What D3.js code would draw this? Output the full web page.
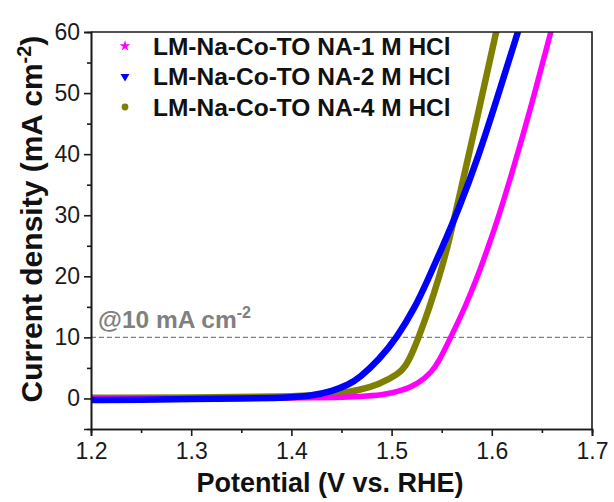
<!DOCTYPE html>
<html>
<head>
<meta charset="utf-8">
<script src="https://cdn.jsdelivr.net/npm/d3@7"></script>
<style>
	body { margin: 0; background: #fff; }
	text { font-family: Arial, "Liberation Sans", sans-serif; }
</style>
</head>
<body>
<svg id="lsv_chart" width="614" height="502"></svg>
<script>
/**
* LSV curves
*/
var series_names = ["LM-Na-Co-TO NA-1 M HCl", "LM-Na-Co-TO NA-2 M HCl", "LM-Na-Co-TO NA-4 M HCl"];
var series_colors = ["#ff00ff", "#0000ff", "#808000"];
var series_symbols = [d3.symbolStar, d3.symbolTriangle, d3.symbolCircle];

var potential_1M = [1.20, 1.30, 1.40, 1.45, 1.4674, 1.4906, 1.5072, 1.527, 1.5403, 1.547, 1.559, 1.5735, 1.585, 1.596, 1.607, 1.623, 1.638, 1.6597];
var current_1M = [0.0, 0.0, 0.05, 0.15, 0.3, 0.55, 1.1, 2.4, 4.4, 6.0, 10.0, 15.0, 19.6, 24.6, 29.8, 38.5, 47.0, 60.5];

var potential_2M = [1.20, 1.25, 1.30, 1.35, 1.40, 1.42, 1.441, 1.4575, 1.4674, 1.4873, 1.5054, 1.5237, 1.5355, 1.5502, 1.5668, 1.5867, 1.606, 1.627];
var current_2M = [-0.25, -0.2, -0.1, 0.0, 0.15, 0.45, 1.2, 2.3, 3.3, 6.3, 10.0, 15.0, 19.2, 24.6, 30.9, 39.6, 49.5, 60.5];

var potential_4M = [1.20, 1.30, 1.40, 1.43, 1.45, 1.4674, 1.4873, 1.5072, 1.514, 1.5195, 1.527, 1.537, 1.5469, 1.5552, 1.5684, 1.5875, 1.605];
var current_4M = [0.1, 0.15, 0.3, 0.55, 0.85, 1.35, 2.3, 4.0, 5.3, 7.0, 10.0, 14.5, 19.6, 24.3, 33.6, 47.5, 60.5];

var x_ticks = [1.2, 1.3, 1.4, 1.5, 1.6, 1.7];
var x_minor = [1.25, 1.35, 1.45, 1.55, 1.65];
var y_ticks = [0, 10, 20, 30, 40, 50, 60];
var y_minor = [5, 15, 25, 35, 45, 55];
var ref_current = 10;

/**
* @func Zip the x and y arrays into points
*/
function zip(xs, ys)
{
	return xs.map(function(v, i) { return [v, ys[i]]; });
}

var curves = [
	zip(potential_1M, current_1M),
	zip(potential_2M, current_2M),
	zip(potential_4M, current_4M)
];

let svg = d3.select("#lsv_chart");
let margin = {left: 91, right: 22, top: 32, bottom: 73};
let width = 614 - margin.left - margin.right,
	height = 502 - margin.top - margin.bottom;

let x = d3.scaleLinear().domain([1.2, 1.7]).range([0, width]);
let y = d3.scaleLinear().domain([-5, 60]).range([height, 0]);

let g = svg.append("g")
	.attr("transform", "translate(" + margin.left + "," + margin.top + ")");

svg.append("defs").append("clipPath")
	.attr("id", "plot_clip")
	.append("rect")
	.attr("width", width)
	.attr("height", height);

/* dashed reference line at 10 mA cm-2 */
g.append("line")
	.attr("x1", 0).attr("x2", width)
	.attr("y1", y(ref_current)).attr("y2", y(ref_current))
	.attr("stroke", "#7f7f7f")
	.attr("stroke-width", 1.4)
	.attr("stroke-dasharray", "5,3");

let ref_label = g.append("text")
	.attr("x", 7)
	.attr("y", y(ref_current) - 9)
	.attr("fill", "#808080")
	.style("font-size", "24.5px")
	.style("font-weight", "bold");
ref_label.append("tspan").text("@10 mA cm");
ref_label.append("tspan").attr("dy", -10).style("font-size", "16px").text("-2");

/* curves */
var line = d3.line()
	.x(function(d) { return x(d[0]); })
	.y(function(d) { return y(d[1]); })
	.curve(d3.curveBasis);

let plot = g.append("g").attr("clip-path", "url(#plot_clip)");
// draw 4M first, then 1M, then 2M on top like the picture
[2, 0, 1].forEach(function(i) {
	plot.append("path")
		.datum(curves[i])
		.attr("fill", "none")
		.attr("stroke", series_colors[i])
		.attr("stroke-width", i == 0 ? 5.5 : 6.5)
		.attr("stroke-linejoin", "round")
		.attr("d", line);
});

/* axes */
let x_axis = g.append("g")
	.attr("transform", "translate(0," + height + ")")
	.call(d3.axisBottom(x).tickValues(x_ticks).tickSize(7).tickFormat(d3.format(".1f")));
g.append("g")
	.attr("transform", "translate(0," + height + ")")
	.call(d3.axisBottom(x).tickValues(x_minor).tickSize(4).tickFormat(""));

let y_axis = g.append("g")
	.call(d3.axisLeft(y).tickValues(y_ticks).tickSize(7));
g.append("g")
	.call(d3.axisLeft(y).tickValues(y_minor).tickSize(4).tickFormat(""));

g.selectAll(".domain, .tick line")
	.attr("stroke", "#1a1a1a")
	.attr("stroke-width", 1.6);

x_axis.selectAll("text")
	.attr("dy", "0.9em")
	.attr("y", 9)
	.attr("fill", "#1a1a1a")
	.style("font-size", "23px");
y_axis.selectAll("text")
	.attr("x", -11)
	.attr("fill", "#1a1a1a")
	.style("font-size", "23px");

// top and right frame
g.append("path")
	.attr("d", "M0,0H" + width + "V" + height)
	.attr("fill", "none")
	.attr("stroke", "#1a1a1a")
	.attr("stroke-width", 1.6);

/* axis titles */
svg.append("text")
	.attr("x", 330)
	.attr("y", 492)
	.attr("text-anchor", "middle")
	.attr("fill", "#111")
	.style("font-size", "27px")
	.style("font-weight", "bold")
	.text("Potential (V vs. RHE)");

let y_title = svg.append("text")
	.attr("transform", "translate(42,219) rotate(-90)")
	.attr("text-anchor", "middle")
	.attr("fill", "#111")
	.style("font-size", "30px")
	.style("font-weight", "bold");
y_title.append("tspan").text("Current density (mA cm");
y_title.append("tspan").attr("dy", -11).style("font-size", "20px").text("-2");
y_title.append("tspan").attr("dy", 11).text(")");

/* legend */
let legend = g.selectAll(".legend")
	.data(series_names)
	.enter().append("g")
	.attr("class", "legend")
	.attr("transform", function(d, i) { return "translate(34," + (14 + i * 30.5) + ")"; });

legend.append("path")
	.attr("d", function(d, i) { return d3.symbol().type(series_symbols[i]).size(i == 1 ? 34 : 36)(); })
	.attr("transform", function(d, i) { return i == 1 ? "rotate(180)" : ""; })
	.attr("fill", function(d, i) { return series_colors[i]; });

legend.append("text")
	.attr("x", 28)
	.attr("dy", "0.36em")
	.attr("fill", "#111")
	.style("font-size", "24.5px")
	.style("font-weight", "bold")
	.text(function(d) { return d; });
</script>
</body>
</html>
